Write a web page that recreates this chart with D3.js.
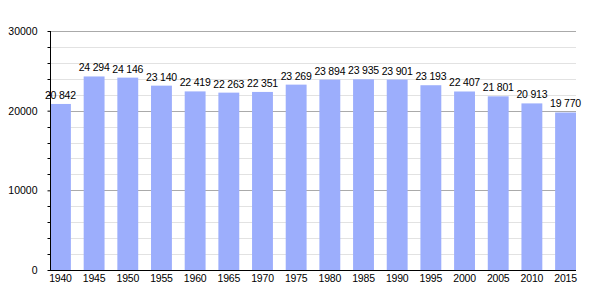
<!DOCTYPE html>
<html>
<head>
<meta charset="utf-8">
<script src="https://cdn.jsdelivr.net/npm/d3@7"></script>
<style>
body { margin: 0; background: #fff; }
text { font-family: "Liberation Sans", Arial, sans-serif; }
</style>
</head>
<body>
<svg width="605" height="300"></svg>
<script>
var years = ["1940", "1945", "1950", "1955", "1960", "1965", "1970", "1975", "1980", "1985", "1990", "1995", "2000", "2005", "2010", "2015"];
var population = [20842, 24294, 24146, 23140, 22419, 22263, 22351, 23269, 23894, 23935, 23901, 23193, 22407, 21801, 20913, 19770];
var yTicks = [0, 10000, 20000, 30000];

var data = years.map(function(y, i){ return {year: y, value: population[i]}; });

var svg = d3.select("svg");
var plotLeft = 50, plotRight = 576, plotTop = 31, plotBottom = 270;

var x = d3.scaleBand().domain(years).range([plotLeft, plotRight]).paddingInner(0.38).paddingOuter(0);
var y = d3.scaleLinear().domain([0, 30000]).range([plotBottom, plotTop]);

// minor grid every 2000
var minor = d3.range(2000, 30000, 2000).filter(function(v){ return v % 10000 != 0; });
svg.append("g").selectAll("line").data(minor).enter().append("line")
  .attr("x1", plotLeft).attr("x2", plotRight)
  .attr("y1", function(d){ return Math.round(y(d)) + 0.5; }).attr("y2", function(d){ return Math.round(y(d)) + 0.5; })
  .attr("stroke", "#e2e2e2");

// major grid
svg.append("g").selectAll("line").data(yTicks.slice(1)).enter().append("line")
  .attr("x1", plotLeft).attr("x2", plotRight)
  .attr("y1", function(d){ return Math.round(y(d)) + 0.5; }).attr("y2", function(d){ return Math.round(y(d)) + 0.5; })
  .attr("stroke", "#aaaaaa");

// bars
svg.append("g").selectAll("rect").data(data).enter().append("rect")
  .attr("x", function(d){ return x(d.year); })
  .attr("y", function(d){ return y(d.value); })
  .attr("width", x.bandwidth())
  .attr("height", function(d){ return plotBottom - y(d.value); })
  .attr("fill", "#9caefc");

// value labels
var fmt = function(v){ return d3.format(",")(v).replace(",", " "); };
svg.append("g").selectAll("text").data(data).enter().append("text")
  .attr("x", function(d){ return x(d.year) + x.bandwidth() / 2; })
  .attr("y", function(d){ return y(d.value) - 5; })
  .attr("text-anchor", "middle")
  .style("font-size", "10.5px")
  .style("letter-spacing", "-0.2px")
  .text(function(d){ return fmt(d.value); });

// axes
var y_axis = d3.axisLeft(y).tickValues(yTicks).tickSize(3).tickFormat(d3.format("d"));
var gy = svg.append("g").attr("transform", "translate(" + (plotLeft + 0.5) + ",0)").call(y_axis);
gy.select(".domain").attr("d", "M0," + plotTop + "V" + plotBottom);
gy.selectAll("text").style("font-size", "10.5px").attr("x", -13);
gy.selectAll(".minor").data(minor).enter().append("line").attr("class", "minor")
  .attr("x1", -3).attr("x2", 0)
  .attr("y1", function(d){ return Math.round(y(d)) + 0.5; }).attr("y2", function(d){ return Math.round(y(d)) + 0.5; })
  .attr("stroke", "#000");

var x_axis = d3.axisBottom(x).tickSize(0).tickPadding(4);
var gx = svg.append("g").attr("transform", "translate(0," + (plotBottom + 0.5) + ")").call(x_axis);
gx.select(".domain").attr("d", "M" + plotLeft + ",0H" + plotRight);
gx.selectAll("text").style("font-size", "10.5px").style("letter-spacing", "-0.2px");
</script>
</body>
</html>
